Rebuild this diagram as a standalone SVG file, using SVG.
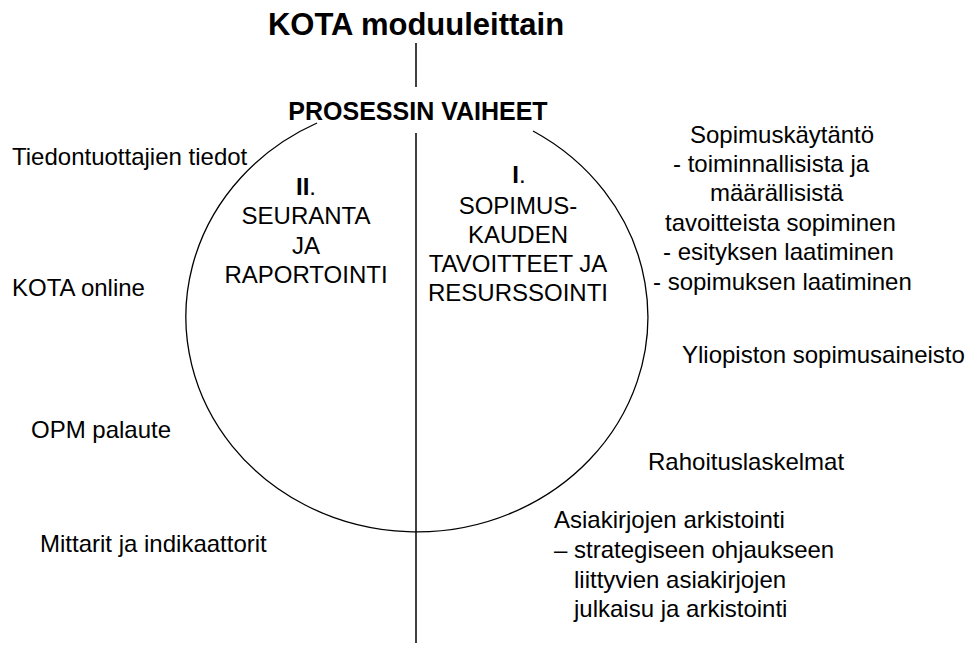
<svg xmlns="http://www.w3.org/2000/svg" width="971" height="645" viewBox="0 0 971 645">
  <style>
    text { font-family: "Liberation Sans", Arial, sans-serif; font-size: 24px; fill: #000; }
    .title { font-size: 31px; font-weight: bold; }
    .head { font-size: 25px; font-weight: bold; }
    .bold { font-weight: bold; }
    .mid { text-anchor: middle; }
    .line { stroke: #000; stroke-width: 1.5; fill: none; }
    .arc { stroke: #000; stroke-width: 1.3; fill: none; }
  </style>
  <rect width="971" height="645" fill="#fff"/>
  <g id="title">
    <text class="title mid" x="416" y="35">KOTA moduuleittain</text>
  </g>
  <g id="connectors">
    <line class="line" x1="416" y1="43" x2="416" y2="87"/>
    <line class="line" x1="416" y1="133" x2="416" y2="643"/>
  </g>
  <g id="process">
    <path class="arc" d="M 317 123 A 231 215 0 1 0 533 131"/>
    <text class="head mid" x="418" y="120">PROSESSIN VAIHEET</text>
  </g>
  <g id="phase2">
    <text class="mid" x="306" y="195"><tspan class="bold">II</tspan>.</text>
    <text class="mid" x="306" y="224">SEURANTA</text>
    <text class="mid" x="306" y="254">JA</text>
    <text class="mid" x="306" y="283">RAPORTOINTI</text>
  </g>
  <g id="phase1">
    <text class="mid" x="519" y="183"><tspan class="bold">I</tspan>.</text>
    <text class="mid" x="518" y="214">SOPIMUS-</text>
    <text class="mid" x="518" y="243">KAUDEN</text>
    <text class="mid" x="518" y="272">TAVOITTEET JA</text>
    <text class="mid" x="518" y="301">RESURSSOINTI</text>
  </g>
  <g id="left-items">
    <text x="12" y="165">Tiedontuottajien tiedot</text>
    <text x="12" y="296">KOTA online</text>
    <text x="31" y="438">OPM palaute</text>
    <text x="40" y="552">Mittarit ja indikaattorit</text>
  </g>
  <g id="sopimuskaytanto">
    <text x="690" y="143">Sopimuskäytäntö</text>
    <text x="673" y="172">- toiminnallisista ja</text>
    <text x="710" y="201">määrällisistä</text>
    <text x="665" y="231">tavoitteista sopiminen</text>
    <text x="663" y="260">- esityksen laatiminen</text>
    <text x="653" y="290">- sopimuksen laatiminen</text>
  </g>
  <g id="right-items">
    <text x="682" y="363">Yliopiston sopimusaineisto</text>
    <text x="648" y="470">Rahoituslaskelmat</text>
  </g>
  <g id="arkistointi">
    <text x="554" y="528">Asiakirjojen arkistointi</text>
    <text x="554" y="558">– strategiseen ohjaukseen</text>
    <text x="574" y="588">liittyvien asiakirjojen</text>
    <text x="574" y="617">julkaisu ja arkistointi</text>
  </g>
</svg>
